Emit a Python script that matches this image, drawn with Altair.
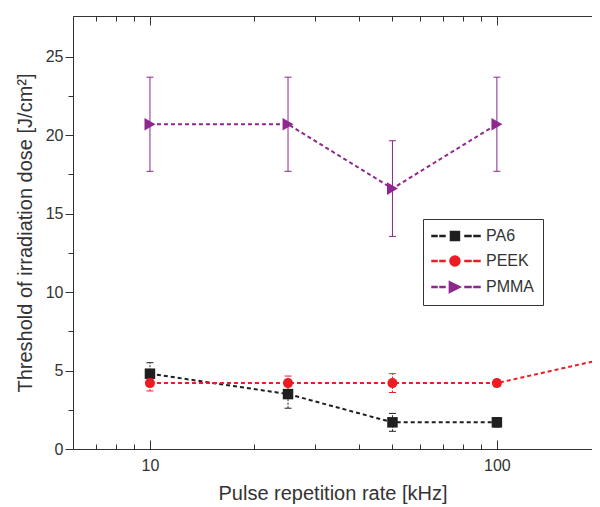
import altair as alt
import pandas as pd

# ---------------- data ----------------
series_names = ["PA6", "PEEK", "PMMA"]
series_colors = ["#1f1f1f", "#ec1c24", "#8e278e"]

pa6_freq = [10, 25, 50, 100]
pa6_dose = [4.8, 3.5, 1.7, 1.7]
pa6_err = [0.7, 0.9, 0.57, 0.3]

peek_freq = [10, 25, 50, 100, 200]
peek_dose = [4.2, 4.2, 4.2, 4.2, 5.7]
peek_err = [0.5, 0.45, 0.6, 0.2, 0.5]

pmma_freq = [10, 25, 50, 100]
pmma_dose = [20.7, 20.7, 16.6, 20.7]
pmma_err = [3.0, 3.0, 3.05, 3.0]

x_major_ticks = [10, 100]
x_all_ticks = [6, 7, 8, 9, 10, 20, 30, 40, 50, 60, 70, 80, 90, 100]
y_ticks = [0, 2.5, 5, 7.5, 10, 12.5, 15, 17.5, 20, 22.5, 25]

rows = []
for name, fr, ds, er in [("PA6", pa6_freq, pa6_dose, pa6_err),
                         ("PEEK", peek_freq, peek_dose, peek_err),
                         ("PMMA", pmma_freq, pmma_dose, pmma_err)]:
    for f, d, e in zip(fr, ds, er):
        rows.append({"series": name, "freq": f, "dose": d, "lo": d - e, "hi": d + e})
df = pd.DataFrame(rows)

# legend symbols: dashed line with the marker in the middle (custom SVG paths)
dashes = ("M-6.05,-0.4H-2.27V0.4H-6.05Z M0,-0.4H3.78V0.4H0Z "
          "M18.9,-0.4H23.43V0.4H18.9Z M25.7,-0.4H30.24V0.4H25.7Z ")
legend_paths = [
    dashes + "M7.9,-3.4H14.7V3.4H7.9Z",
    dashes + "M7.5,0A3.8,3.8 0 1,0 15.1,0A3.8,3.8 0 1,0 7.5,0Z",
    dashes + "M7.1,-4.1L15.4,0L7.1,4.1Z",
]

# ---------------- layout ----------------
W, H = 519, 433
FONT = "Liberation Sans"

xscale = alt.Scale(type="log", domain=[6, 188])
yscale = alt.Scale(domain=[0, 27.6], nice=False, zero=False)
cscale = alt.Scale(domain=series_names, range=series_colors)

tick_size_x = {"condition": {"test": "datum.value == 10 || datum.value == 100", "value": 9}, "value": 5}
tick_size_y = {"condition": {"test": "datum.value % 5 == 0", "value": 8}, "value": 5}

y_axis = alt.Axis(orient="left", values=y_ticks, tickSize=tick_size_y, labelPadding=2,
                  labelExpr="datum.value % 5 == 0 ? datum.label : ''",
                  title="Threshold of irradiation dose [J/cm²]", titlePadding=10)

legend_props = dict(title=None, orient="none", legendX=350, legendY=203, padding=9,
                    strokeColor="#333", fillColor="white", symbolSize=100, labelOffset=38,
                    rowPadding=8, labelFont=FONT, labelFontSize=16, labelColor="#333")
color_enc = alt.Color("series:N", scale=cscale, legend=alt.Legend(**legend_props))

base = alt.Chart(df)

lines = base.mark_line(strokeDash=[4, 3], strokeWidth=2, clip=True).encode(
    x=alt.X("freq:Q", scale=xscale,
            axis=alt.Axis(orient="bottom", values=x_major_ticks, ticks=False, labelPadding=8,
                          format="d", title="Pulse repetition rate [kHz]", titlePadding=10)),
    y=alt.Y("dose:Q", scale=yscale, axis=y_axis),
    color=color_enc,
)

rules_dashed = base.transform_filter(alt.datum.series != "PMMA").mark_rule(
    strokeWidth=1, strokeDash=[2, 1.5], clip=True
).encode(
    x=alt.X("freq:Q", scale=xscale,
            axis=alt.Axis(orient="top", offset=-H, values=x_all_ticks, tickSize=tick_size_x,
                          labels=False, domain=False, title=None)),
    y=alt.Y("lo:Q", scale=yscale, axis=y_axis),
    y2="hi:Q",
    color=color_enc,
)

rules_solid = base.transform_filter(alt.datum.series == "PMMA").mark_rule(
    strokeWidth=1, clip=True
).encode(
    x=alt.X("freq:Q", scale=xscale, axis=None),
    y=alt.Y("lo:Q", scale=yscale, axis=y_axis),
    y2="hi:Q",
    color=color_enc,
)

cap_size = alt.Size("series:N", scale=alt.Scale(domain=series_names, range=[7, 7, 10]), legend=None)

caps_lo = base.mark_tick(orient="horizontal", thickness=1, opacity=1, clip=True).encode(
    x=alt.X("freq:Q", scale=xscale,
            axis=alt.Axis(orient="bottom", offset=-H, values=x_all_ticks, tickSize=tick_size_x,
                          labels=False, domain=True, title=None)),
    y=alt.Y("lo:Q", scale=yscale, axis=y_axis),
    color=color_enc,
    size=cap_size,
)

caps_hi = base.mark_tick(orient="horizontal", thickness=1, opacity=1, clip=True).encode(
    x=alt.X("freq:Q", scale=xscale, axis=None),
    y=alt.Y("hi:Q", scale=yscale, axis=y_axis),
    color=color_enc,
    size=cap_size,
)


def points(name, shape, size, color):
    return base.transform_filter(alt.datum.series == name).mark_point(
        shape=shape, filled=True, size=size, opacity=1, color=color, clip=True
    ).encode(
        x=alt.X("freq:Q", scale=xscale, axis=None),
        y=alt.Y("dose:Q", scale=yscale, axis=y_axis),
    )


pts_pa6 = points("PA6", "square", 110, series_colors[0])
pts_peek = points("PEEK", "circle", 100, series_colors[1])
pts_pmma = points("PMMA", "triangle-right", 160, series_colors[2])

legend_layer = base.transform_filter("false").mark_point(filled=True, size=100, opacity=1).encode(
    x=alt.X("freq:Q", scale=xscale, axis=None),
    y=alt.Y("dose:Q", scale=yscale, axis=y_axis),
    color=color_enc,
    shape=alt.Shape("series:N", scale=alt.Scale(domain=series_names, range=legend_paths),
                    legend=alt.Legend(**legend_props)),
)

chart = alt.layer(
    lines, rules_dashed, rules_solid, caps_lo, caps_hi, pts_pa6, pts_peek, pts_pmma, legend_layer
).resolve_axis(
    x="independent"
).properties(
    width=W, height=H,
    autosize=alt.AutoSizeParams(type="none"),
    padding={"left": 65, "top": 8, "right": 0, "bottom": 58},
).configure_view(
    stroke=None
).configure_axis(
    grid=False,
    domainColor="#333", domainWidth=1,
    tickColor="#333", tickWidth=1,
    labelColor="#333", labelFont=FONT, labelFontSize=16,
    titleColor="#333", titleFont=FONT, titleFontSize=20, titleFontWeight="normal",
)

chart.save("out.html", embed_options={"renderer": "svg", "actions": False})
